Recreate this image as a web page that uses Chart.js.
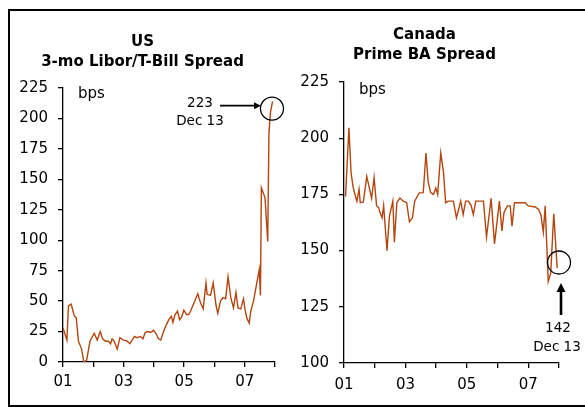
<!DOCTYPE html>
<html>
<head>
<meta charset="utf-8">
<script src="https://cdn.jsdelivr.net/npm/chart.js@4.4.1/dist/chart.umd.min.js"></script>
<style>
  html, body { margin: 0; padding: 0; background: #fff; }
  body { width: 585px; height: 407px; position: relative; overflow: hidden; }
  #frame { position: absolute; left: 8px; top: 9px; width: 600px; height: 394px;
           border-top: 2px solid #000; border-left: 2px solid #000; border-bottom: 2px solid #000; }
  .wrap { position: absolute; top: 10px; }
  canvas { display: block; }
</style>
</head>
<body>
<div id="frame"></div>
<div class="wrap" style="left:10px;"><canvas id="us" width="280" height="390"></canvas></div>
<div class="wrap" style="left:290px;"><canvas id="ca" width="294" height="390"></canvas></div>
<script>
// ---- Data ----
const usTitle = ['US', '3-mo Libor/T-Bill Spread'];
const caTitle = ['Canada', 'Prime BA Spread'];
const unitLabel = 'bps';

const usYears = [2001.00,2001.13,2001.18,2001.27,2001.37,2001.44,2001.51,2001.61,2001.69,2001.78,2001.89,
  2002.03,2002.13,2002.23,2002.31,2002.40,2002.50,2002.57,2002.62,2002.69,2002.79,2002.88,2002.99,
  2003.10,2003.21,2003.36,2003.44,2003.55,2003.64,2003.71,2003.80,2003.90,2003.99,
  2004.08,2004.15,2004.23,2004.32,2004.41,2004.50,2004.58,2004.63,2004.70,2004.78,2004.85,2004.92,2004.99,
  2005.08,2005.15,2005.21,2005.30,2005.45,2005.54,2005.63,2005.72,2005.76,2005.87,2005.96,
  2006.05,2006.11,2006.20,2006.28,2006.37,2006.45,2006.54,2006.63,2006.71,2006.78,2006.87,2006.96,
  2007.01,2007.07,2007.15,2007.20,2007.29,2007.40,2007.48,2007.52,2007.55,2007.67,2007.76,2007.80,2007.85,2007.92];
const usValues = [28,18,46,47.5,38,36,17,11,0,1.4,17,
  23.6,18,25,19,17,17,15,19,17,10.5,20,18,
  17.5,15,21,20,21,19,24,25,24.4,26,
  23,19,18,25,30.5,35,37.5,32.5,39,41.7,34.7,37,42.5,
  39,39,41.7,47,56,48.6,43.6,65,55.6,54.7,65,
  47,40,50,52.8,52,70,52.8,44.4,57,44.4,43.6,52,
  43,36,32,41.7,50,65,76,54.7,143,135,99,188,205,214];

const caYears = [2001.05,2001.16,2001.23,2001.30,2001.37,2001.42,2001.49,2001.53,2001.63,2001.74,2001.81,2001.90,2001.98,
  2002.06,2002.13,2002.17,2002.24,2002.29,2002.40,2002.48,2002.59,2002.64,2002.72,2002.82,2002.93,
  2003.04,2003.13,2003.23,2003.30,2003.45,2003.58,2003.67,2003.74,2003.82,2003.91,2003.99,
  2004.05,2004.15,2004.24,2004.31,2004.39,2004.56,2004.66,2004.80,2004.88,2004.96,
  2005.05,2005.14,2005.21,2005.29,2005.54,2005.64,2005.79,2005.90,
  2006.06,2006.14,2006.21,2006.32,2006.41,2006.47,2006.55,2006.90,
  2007.00,2007.22,2007.33,2007.41,2007.49,2007.55,2007.65,2007.73,2007.83,2007.94];
const caValues = [174,204.6,184.5,178,174.3,172,177.3,171.3,171.6,183,178.8,173.3,182.5,
  170,169,167,164.6,170,150,165.4,172,153.7,171.3,173.4,172,
  171.3,162.8,164.6,172,175.7,175.8,193.4,180.6,175.8,175,177.9,
  175,193.4,184.8,171.3,172,172,164.6,172,166,172,
  172,170,166,172,172,156,173.3,153,
  172,158.7,167,169.9,169.9,160.9,171.3,171.3,
  169.9,169.4,168.4,166,158.2,169.9,136.3,140,166.4,142.2];

const xMin = 2001, xMax = 2008;
const xLabelYears = [2001, 2003, 2005, 2007];
const usYTicks = [0, 225, 25];      // min, max, step
const caYTicks = [100, 225, 25];

const usNote = ['223', 'Dec 13'];
const caNote = ['142', 'Dec 13'];
const usCircle = [2007.90, 208];    // data position of the marker circle
const caCircle = [2008.00, 144.7];

// ---- Styles ----
const LINE = '#B4450E';
const TICK_FONT = { family: 'DejaVu Sans', size: 15 };
const TITLE_FONT = { family: 'DejaVu Sans', size: 15, weight: 'bold', lineHeight: '20px' };

function arrow(ctx, x1, y1, x2, y2, w, head, hw) {
  const a = Math.atan2(y2 - y1, x2 - x1);
  ctx.save();
  ctx.strokeStyle = '#000'; ctx.fillStyle = '#000'; ctx.lineWidth = w;
  ctx.beginPath();
  ctx.moveTo(x1, y1);
  ctx.lineTo(x2 - Math.cos(a) * head * 0.8, y2 - Math.sin(a) * head * 0.8);
  ctx.stroke();
  ctx.beginPath();
  ctx.moveTo(x2, y2);
  ctx.lineTo(x2 - Math.cos(a) * head - Math.sin(a) * hw, y2 - Math.sin(a) * head + Math.cos(a) * hw);
  ctx.lineTo(x2 - Math.cos(a) * head + Math.sin(a) * hw, y2 - Math.sin(a) * head - Math.cos(a) * hw);
  ctx.closePath();
  ctx.fill();
  ctx.restore();
}

function makeChart(id, years, values, yt, title, cfg) {
  const annot = {
    id: 'annot_' + id,
    afterDraw(chart) {
      const ctx = chart.ctx, ca = chart.chartArea;
      const xs = chart.scales.x, ys = chart.scales.y;
      ctx.save();
      ctx.fillStyle = '#000';
      ctx.font = '15px "DejaVu Sans"';
      ctx.textAlign = 'left'; ctx.textBaseline = 'alphabetic';
      ctx.fillText(unitLabel, ca.left + 15, ca.top + cfg.bpsDy);
      const cx = xs.getPixelForValue(cfg.circle[0]);
      const cy = ys.getPixelForValue(cfg.circle[1]);
      ctx.strokeStyle = '#000'; ctx.lineWidth = 1.3;
      ctx.beginPath(); ctx.arc(cx, cy, 11.5, 0, Math.PI * 2); ctx.stroke();
      cfg.drawNote(ctx, cx, cy);
      ctx.restore();
    }
  };
  return new Chart(document.getElementById(id), {
    type: 'line',
    data: {
      datasets: [{
        data: years.map((x, i) => ({ x, y: values[i] })),
        borderColor: LINE, borderWidth: 1.4, pointRadius: 0, tension: 0, fill: false
      }]
    },
    options: {
      responsive: false, animation: false, events: [],
      layout: { padding: { left: 0, right: cfg.padRight, top: 0, bottom: 0 } },
      plugins: {
        legend: { display: false }, tooltip: { enabled: false },
        title: { display: true, text: title, color: '#000', font: TITLE_FONT,
                 padding: { top: cfg.titleTop, bottom: cfg.titleBottom } }
      },
      scales: {
        x: {
          type: 'linear', min: xMin, max: xMax,
          afterFit(s) { s.height = cfg.xHeight; },
          border: { display: true, color: '#000', width: 1.3 },
          grid: { drawOnChartArea: false, drawTicks: true, tickLength: 5, color: '#000', lineWidth: 1.3 },
          ticks: {
            stepSize: 1, autoSkip: false, maxRotation: 0, color: '#000', font: TICK_FONT, padding: cfg.xPad,
            callback: v => xLabelYears.includes(v) ? String(v).slice(2) : ''
          }
        },
        y: {
          min: yt[0], max: yt[1],
          afterFit(s) { s.width = cfg.yWidth; },
          border: { display: true, color: '#000', width: 1.3 },
          grid: { drawOnChartArea: false, drawTicks: true, tickLength: 5, color: '#000', lineWidth: 1.3 },
          ticks: { stepSize: yt[2], color: '#000', font: TICK_FONT, padding: 10 }
        }
      }
    },
    plugins: [annot]
  });
}

makeChart('us', usYears, usValues, usYTicks, usTitle, {
  padRight: 15, titleTop: 22, titleBottom: 16, xHeight: 38, yWidth: 53, xPad: 6, bpsDy: 10,
  circle: usCircle,
  drawNote(ctx, cx, cy) {
    arrow(ctx, cx - 52, cy - 3, cx - 11, cy - 3, 1.7, 7, 3.5);
    ctx.font = '13.5px "DejaVu Sans"';
    ctx.textAlign = 'center'; ctx.textBaseline = 'middle';
    ctx.fillText(usNote[0], cx - 72, cy - 5.5);
    ctx.fillText(usNote[1], cx - 72, cy + 12.5);
  }
});

makeChart('ca', caYears, caValues, caYTicks, caTitle, {
  padRight: 25, titleTop: 15, titleBottom: 17, xHeight: 37, yWidth: 54, xPad: 8, bpsDy: 11.5,
  circle: caCircle,
  drawNote(ctx, cx, cy) {
    arrow(ctx, cx + 2, cy + 52.5, cx + 2, cy + 20.5, 2.6, 9, 4.5);
    ctx.font = '13.5px "DejaVu Sans"';
    ctx.textAlign = 'center'; ctx.textBaseline = 'middle';
    ctx.fillText(caNote[0], cx - 1, cy + 65.5);
    ctx.fillText(caNote[1], cx - 2, cy + 84.5);
  }
});
</script>
</body>
</html>
